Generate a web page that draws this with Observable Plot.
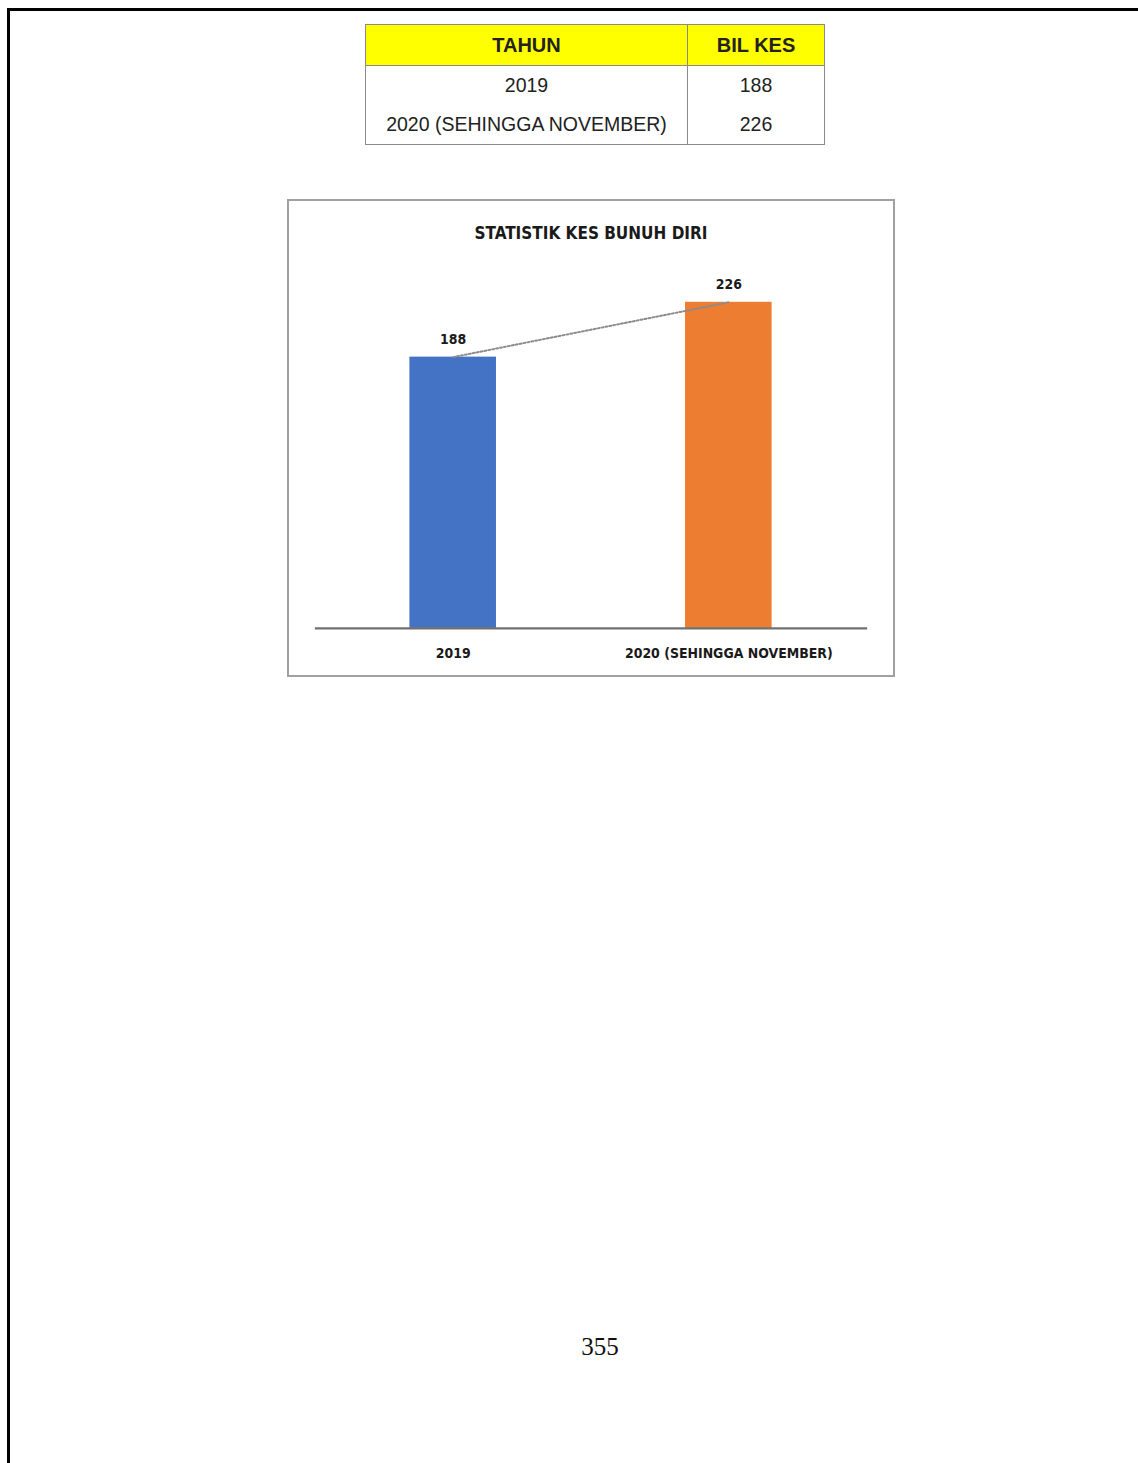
<!DOCTYPE html>
<html>
<head>
<meta charset="utf-8">
<script src="https://cdn.jsdelivr.net/npm/d3@7"></script>
<script src="https://cdn.jsdelivr.net/npm/@observablehq/plot@0.6"></script>
<style>
  html, body { margin: 0; padding: 0; background: #fff; }
  body { width: 1138px; height: 1463px; position: relative; overflow: hidden; }
  #page { position: absolute; left: 7px; top: 8px; width: 1140px; height: 1460px;
          border-left: 3px solid #000; border-top: 3px solid #000; box-sizing: border-box; }
  #tbl { position: absolute; left: 365px; top: 24px; border-collapse: collapse;
         font-family: "Liberation Sans", Arial, sans-serif; color: #222; }
  #tbl th, #tbl td { padding: 0; text-align: center; border-left: 1.5px solid #8a8a8a; border-right: 1.5px solid #8a8a8a; }
  #tbl th { background: #ffff00; font-weight: bold; font-size: 20px; height: 40px;
            border-top: 1.5px solid #8a8a8a; border-bottom: 1.5px solid #8a8a8a; }
  #tbl td { font-size: 19.5px; height: 39px; }
  #tbl tr:last-child td { border-bottom: 1.5px solid #8a8a8a; }
  #box { position: absolute; left: 287px; top: 199px; width: 608px; height: 478px;
         border: 2px solid #a0a0a0; box-sizing: border-box; }
  #title { position: absolute; left: 0; width: 100%; top: 22px; text-align: center;
           font-family: "Liberation Sans Narrow", "DejaVu Sans Condensed", sans-serif;
           font-weight: bold; font-size: 17px; color: #1a1a1a; }
  #chart { position: absolute; left: -1px; top: -1px; }
  #pagenum { position: absolute; left: 0; width: 1200px; top: 1333px; text-align: center;
             font-family: "Liberation Serif", "Times New Roman", serif; font-size: 25px; color: #111; }
</style>
</head>
<body>
<div id="page"></div>
<table id="tbl"></table>
<div id="box"><div id="title"></div><div id="chart"></div></div>
<div id="pagenum"></div>
<script>
// ---- data ----
const tableHeaders = ["TAHUN", "BIL KES"];
const categories = ["2019", "2020 (SEHINGGA NOVEMBER)"];
const values = [188, 226];
const chartTitle = "STATISTIK KES BUNUH DIRI";
const pageNumber = "355";
const barColors = ["#4472C4", "#ED7D31"];

// ---- table ----
const tbl = document.getElementById("tbl");
const hr = document.createElement("tr");
tableHeaders.forEach((h, i) => {
  const th = document.createElement("th");
  th.textContent = h;
  th.style.width = i === 0 ? "321px" : "136px";
  hr.appendChild(th);
});
tbl.appendChild(hr);
categories.forEach((c, i) => {
  const tr = document.createElement("tr");
  [c, String(values[i])].forEach(t => {
    const td = document.createElement("td");
    td.textContent = t;
    tr.appendChild(td);
  });
  tbl.appendChild(tr);
});

document.getElementById("title").textContent = chartTitle;
document.getElementById("pagenum").textContent = pageNumber;

// ---- chart ----
const data = categories.map((c, i) => ({cat: c, value: values[i]}));
const fontNarrow = "'Liberation Sans Narrow', 'DejaVu Sans Condensed', sans-serif";

const chart = Plot.plot({
  width: 608,
  height: 478,
  marginLeft: 27,
  marginRight: 26,
  marginTop: 67.5,
  marginBottom: 48,
  style: {background: "transparent", fontFamily: fontNarrow},
  x: {domain: categories, paddingInner: 0.685, paddingOuter: 0.3425, label: null},
  y: {domain: [0, 250], axis: null},
  color: {domain: categories, range: barColors},
  marks: [
    Plot.barY(data, {x: "cat", y: "value", fill: "cat"}),
    Plot.lineY(data, {x: "cat", y: "value", stroke: "#8c8c8c", strokeWidth: 2, strokeDasharray: "2,2"}),
    Plot.text(data, {x: "cat", y: "value", text: d => String(d.value), dy: -18,
      fontSize: 14, fontWeight: "bold", fill: "#1a1a1a"}),
    Plot.ruleY([0], {stroke: "#707070", strokeWidth: 2.5}),
    Plot.axisX({tickSize: 0, tickPadding: 20, fontSize: 14, fontWeight: "bold", color: "#1a1a1a", label: null})
  ]
});
document.getElementById("chart").appendChild(chart);
</script>
</body>
</html>
